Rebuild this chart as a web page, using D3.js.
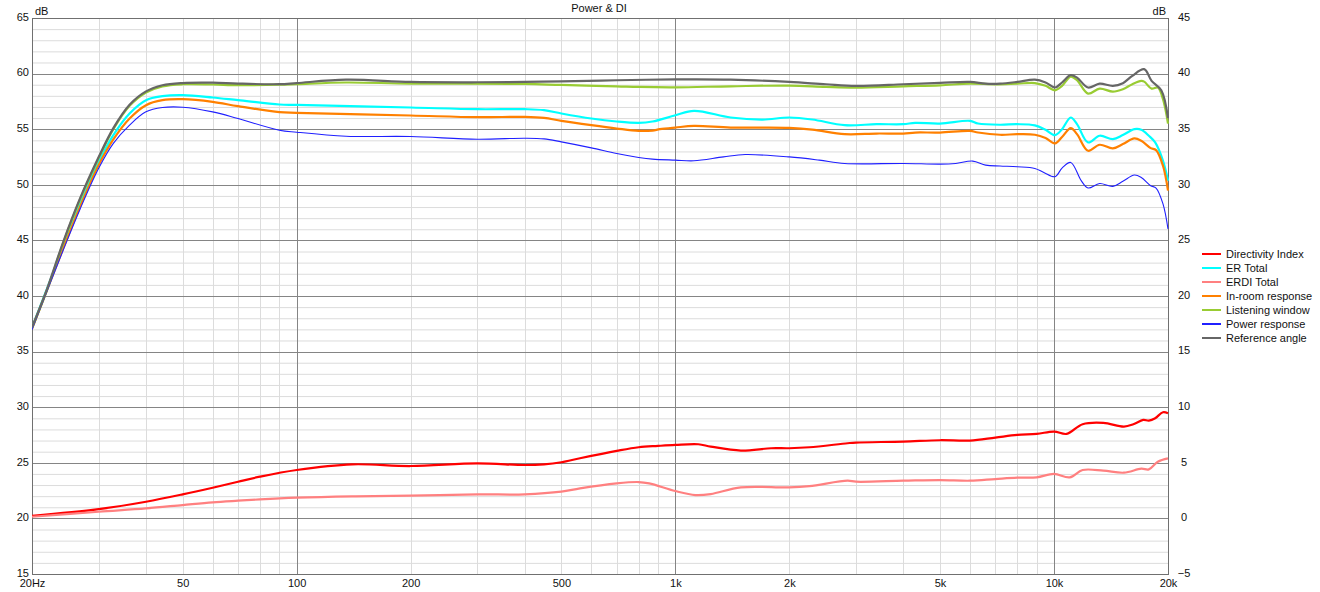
<!DOCTYPE html>
<html><head><meta charset="utf-8">
<script src="https://cdn.jsdelivr.net/npm/d3@7/dist/d3.min.js"></script>
<style>
html,body{margin:0;padding:0;background:#fff;}
svg{display:block;font-family:"Liberation Sans",Arial,sans-serif;}
</style></head>
<body>
<svg id="chart" width="1320" height="592"></svg>
<script>
// ---- Data (frequency Hz, dB) ----
const directivityIndex = [[20,0.24],[30,0.84],[40,1.5],[50,2.16],[60,2.76],[70,3.3],[80,3.75],[100,4.35],[140,4.86],[200,4.71],[300,4.95],[400,4.8],[450,4.86],[500,5.05],[560,5.41],[700,6.07],[800,6.4],[900,6.52],[1000,6.61],[1150,6.67],[1240,6.46],[1490,6.1],[1790,6.31],[2000,6.31],[2260,6.4],[2850,6.76],[3000,6.82],[4000,6.91],[5000,7.03],[6000,7.0],[7000,7.27],[8000,7.51],[9000,7.6],[10000,7.81],[10800,7.6],[11900,8.47],[13500,8.59],[15300,8.26],[16200,8.47],[17200,8.86],[17800,8.8],[18500,9.01],[19400,9.55],[20000,9.46]];
const erTotal = [[20,37.13],[24.2,44.45],[26.8,48.28],[30,52.08],[32.8,54.47],[36.2,56.41],[40,57.61],[44.2,57.97],[50,58.06],[60,57.85],[70,57.61],[90,57.22],[100,57.19],[200,56.95],[300,56.8],[400,56.8],[450,56.71],[500,56.41],[600,55.96],[700,55.69],[800,55.57],[870,55.69],[1000,56.25],[1120,56.65],[1400,56.05],[1700,55.87],[2000,56.05],[2300,55.87],[2800,55.36],[3400,55.45],[4000,55.45],[4300,55.57],[5000,55.51],[6000,55.75],[6300,55.51],[7200,55.4],[8000,55.45],[8900,55.35],[9500,54.95],[10060,54.47],[10500,55.0],[11070,56.05],[11500,55.46],[12300,53.81],[13200,54.41],[14300,54.11],[15200,54.47],[16300,55.0],[17000,54.95],[17800,54.41],[18500,53.81],[19400,52.16],[20000,50.37]];
const erdiTotal = [[20,0.15],[30,0.6],[40,0.9],[50,1.2],[60,1.44],[70,1.59],[80,1.71],[100,1.86],[140,1.98],[200,2.04],[300,2.16],[400,2.16],[500,2.4],[560,2.7],[700,3.15],[800,3.27],[853,3.15],[1000,2.46],[1130,2.1],[1240,2.19],[1490,2.79],[2000,2.79],[2260,2.91],[2850,3.39],[3000,3.3],[4000,3.39],[5000,3.45],[6000,3.39],[7000,3.54],[8000,3.66],[9000,3.69],[10000,4.0],[11000,3.69],[11900,4.35],[13500,4.29],[15300,4.11],[17000,4.47],[17800,4.41],[18800,5.1],[20000,5.4]];
const inRoom = [[20,37.04],[24.2,44.3],[26.8,48.04],[30,51.78],[32.8,54.08],[36.2,55.96],[40,57.16],[44.2,57.61],[50,57.7],[60,57.46],[70,57.07],[90,56.53],[100,56.47],[200,56.23],[300,56.08],[400,56.11],[450,56.02],[500,55.75],[600,55.36],[700,55.06],[800,54.85],[870,54.88],[910,55.0],[1000,55.15],[1120,55.3],[1400,55.15],[2000,55.12],[2300,54.97],[2800,54.55],[3400,54.61],[4000,54.61],[4300,54.7],[5000,54.7],[6000,54.85],[6300,54.7],[7200,54.5],[8000,54.55],[8900,54.5],[9500,54.2],[10060,53.72],[10500,54.3],[11070,55.1],[11500,54.56],[12300,53.06],[13200,53.6],[14300,53.27],[15200,53.66],[16300,54.17],[17000,53.96],[18000,53.3],[18600,53.12],[19400,51.71],[20000,49.47]];
const listeningWindow = [[20,37.1],[21.9,40.5],[24.2,44.8],[26.8,48.7],[30,52.4],[32.8,55.0],[36.2,57.1],[40,58.3],[44.2,58.85],[50,59.04],[60,59.02],[70,58.96],[90,59.0],[100,59.05],[135,59.2],[200,59.1],[400,59.07],[500,58.98],[700,58.86],[800,58.8],[1000,58.77],[1400,58.86],[2000,58.92],[2500,58.8],[3000,58.74],[4000,58.86],[5000,58.95],[6000,59.1],[7000,59.04],[8000,59.1],[8900,59.15],[9500,58.9],[10060,58.5],[10500,58.9],[11070,59.73],[11500,59.41],[12300,58.2],[13200,58.65],[14300,58.38],[15200,58.6],[16100,59.05],[17000,59.34],[17300,59.28],[18100,58.65],[18800,58.74],[19400,57.7],[20000,55.5]];
const powerResponse = [[20,36.98],[24.2,44.16],[26.8,47.83],[30,51.48],[32.8,53.72],[36.2,55.37],[40,56.56],[44.2,56.95],[50,56.98],[60,56.56],[70,55.96],[90,54.91],[100,54.73],[135,54.37],[200,54.34],[300,54.1],[400,54.19],[450,54.13],[500,53.86],[600,53.32],[700,52.81],[800,52.46],[870,52.31],[1000,52.22],[1120,52.16],[1340,52.51],[1530,52.72],[2000,52.51],[2400,52.22],[2800,51.92],[4000,51.92],[5000,51.86],[5500,51.92],[6100,52.13],[6600,51.77],[7200,51.69],[8000,51.62],[8900,51.47],[9400,51.11],[10060,50.73],[10500,51.5],[11070,52.01],[11800,50.37],[12300,49.71],[13200,50.12],[14300,49.86],[15200,50.31],[16300,50.88],[17000,50.66],[18000,49.92],[18600,49.71],[19400,48.28],[20000,46.03]];
const referenceAngle = [[20,37.2],[21.9,40.6],[24.2,44.9],[26.8,48.8],[30,52.5],[32.8,55.1],[36.2,57.2],[40,58.4],[44.2,58.95],[50,59.15],[60,59.18],[70,59.1],[90,59.05],[100,59.15],[135,59.45],[200,59.25],[300,59.22],[400,59.25],[500,59.3],[700,59.4],[1000,59.48],[1400,59.46],[2000,59.25],[2500,59.04],[3000,58.9],[4000,59.04],[5000,59.16],[6000,59.25],[6600,59.1],[7200,59.1],[8000,59.25],[8900,59.45],[9500,59.2],[10060,58.75],[10500,59.2],[11070,59.86],[11500,59.64],[12300,58.75],[13200,59.1],[14300,58.9],[15200,59.14],[16100,59.8],[17300,60.4],[18100,59.35],[19200,58.5],[20000,56.0]];

const xTickValues = [20,50,100,200,500,1000,2000,5000,10000,20000];
const xTickLabels = ["20Hz","50","100","200","500","1k","2k","5k","10k","20k"];
const leftTicks = [15,20,25,30,35,40,45,50,55,60,65];
const rightTicks = [-5,0,5,10,15,20,25,30,35,40,45];

const seriesNames = ["Directivity Index","ER Total","ERDI Total","In-room response","Listening window","Power response","Reference angle"];
const seriesData = [directivityIndex, erTotal, erdiTotal, inRoom, listeningWindow, powerResponse, referenceAngle];
const seriesAxis = ["right","left","right","left","left","left","left"];
const seriesColors = ["#ff0000","#00ffff","#ff8080","#ff8000","#99cc33","#2020ff","#666666"];
const seriesWidths = [2.2,2.2,2.2,2.2,2.2,1.1,2.2];

// ---- Layout ----
const L = 32, R = 1168, T = 18, B = 574;
const svg = d3.select("#chart");
const x = d3.scaleLog().domain([20,20000]).range([L,R]);
const yL = d3.scaleLinear().domain([15,65]).range([B,T]);
const yR = d3.scaleLinear().domain([-5,45]).range([B,T]);

// grid
const g = svg.append("g");
const minorV = [], majorV = [100,1000,10000];
[10,100,1000,10000].forEach(d => { for (let k=1;k<10;k++){ const f=d*k; if (f>20 && f<20000 && !majorV.includes(f)) minorV.push(f);} });
const minorH = d3.range(15,66).filter(v => v%5 !== 0);
const majorH = d3.range(20,65,5);
g.selectAll(".mh").data(minorH).join("line").attr("x1",L).attr("x2",R).attr("y1",d=>yL(d)+0.5).attr("y2",d=>yL(d)+0.5).attr("stroke","#dcdcdc");
g.selectAll(".mv").data(minorV.filter(f=>f>=20)).join("line").attr("y1",T).attr("y2",B).attr("x1",d=>Math.round(x(d))+0.5).attr("x2",d=>Math.round(x(d))+0.5).attr("stroke","#dcdcdc");
g.selectAll(".Mh").data(majorH).join("line").attr("x1",L).attr("x2",R).attr("y1",d=>Math.round(yL(d))+0.5).attr("y2",d=>Math.round(yL(d))+0.5).attr("stroke","#858585");
g.selectAll(".Mv").data(majorV).join("line").attr("y1",T).attr("y2",B).attr("x1",d=>Math.round(x(d))+0.5).attr("x2",d=>Math.round(x(d))+0.5).attr("stroke","#858585");
svg.append("rect").attr("x",L+0.5).attr("y",T+0.5).attr("width",R-L).attr("height",B-T).attr("fill","none").attr("stroke","#707070");

// axes
const fs = "11px";
const ax = svg.append("g").attr("transform",`translate(0,${B})`)
  .call(d3.axisBottom(x).tickValues(xTickValues).tickFormat((d,i)=>xTickLabels[i]).tickSize(0).tickPadding(5));
ax.select(".domain").remove();
ax.selectAll("text").attr("font-size",fs).attr("fill","#111").attr("font-family","Liberation Sans, Arial, sans-serif");

const al = svg.append("g").attr("transform",`translate(${L},0)`)
  .call(d3.axisLeft(yL).tickValues(leftTicks).tickSize(0).tickPadding(3));
al.select(".domain").remove();
al.selectAll("text").attr("font-size",fs).attr("fill","#111").attr("dy","0.2em").attr("font-family","Liberation Sans, Arial, sans-serif");

const ar = svg.append("g").attr("transform",`translate(${R},0)`)
  .call(d3.axisRight(yR).tickValues(rightTicks).tickSize(0).tickPadding(16));
ar.select(".domain").remove();
ar.selectAll("text").attr("font-size",fs).attr("fill","#111").attr("dy","0.2em").attr("text-anchor","middle").attr("font-family","Liberation Sans, Arial, sans-serif");

svg.append("text").attr("x",35).attr("y",15).attr("font-size",fs).attr("fill","#111").text("dB");
svg.append("text").attr("x",1166).attr("y",15).attr("text-anchor","end").attr("font-size",fs).attr("fill","#111").text("dB");
svg.append("text").attr("x",599).attr("y",12).attr("text-anchor","middle").attr("font-size",fs).attr("fill","#111").text("Power & DI");

// lines
const clip = svg.append("clipPath").attr("id","clip").append("rect").attr("x",L).attr("y",T).attr("width",R-L+1).attr("height",B-T);
const lg = svg.append("g").attr("clip-path","url(#clip)");
seriesData.forEach((data,i) => {
  const ys = seriesAxis[i]==="left" ? yL : yR;
  const line = d3.line().x(d=>x(d[0])).y(d=>ys(d[1])).curve(d3.curveCatmullRom.alpha(0.5));
  lg.append("path").datum(data).attr("d",line).attr("fill","none")
    .attr("stroke",seriesColors[i]).attr("stroke-width",seriesWidths[i]).attr("stroke-linejoin","round");
});

// legend
const leg = svg.append("g");
seriesNames.forEach((n,i) => {
  const yy = 254 + i*14;
  leg.append("line").attr("x1",1202).attr("x2",1221).attr("y1",yy).attr("y2",yy).attr("stroke",seriesColors[i]).attr("stroke-width",2);
  leg.append("text").attr("x",1226).attr("y",yy+4).attr("font-size",fs).attr("fill","#111").text(n);
});
</script>
</body></html>
